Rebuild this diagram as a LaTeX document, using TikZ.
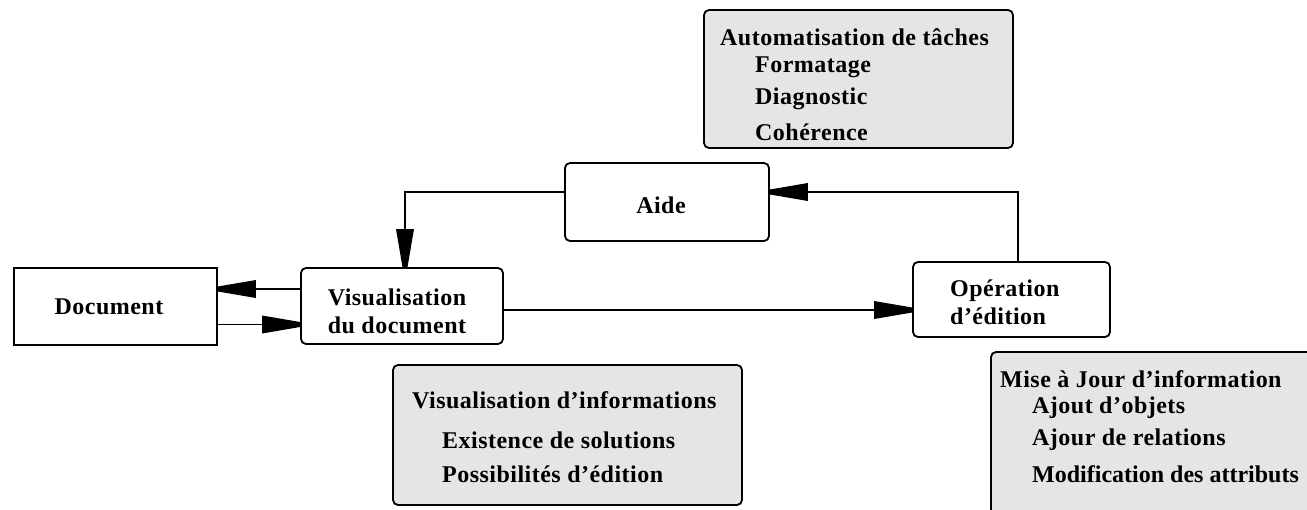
\documentclass[tikz,border=0pt]{standalone}
\usepackage{fontspec}
\setmainfont{Liberation Serif}[LetterSpace=2]
\usetikzlibrary{arrows.meta}
\definecolor{notefill}{RGB}{229,229,229}

% long, blunt-nosed filled arrow head
\pgfdeclarearrow{
  name=BluntHead,
  setup code={
    \pgfarrowssettipend{0pt}
    \pgfarrowssetlineend{-20pt}
    \pgfarrowssetbackend{-38pt}
    \pgfarrowssetvisualbackend{-38pt}
    \pgfarrowsupperhullpoint{-38pt}{9pt}
    \pgfarrowsupperhullpoint{0pt}{2.5pt}
  },
  drawing code={
    \pgfpathmoveto{\pgfpoint{0pt}{2.5pt}}
    \pgfpathlineto{\pgfpoint{-38pt}{9pt}}
    \pgfpathlineto{\pgfpoint{-38pt}{-9pt}}
    \pgfpathlineto{\pgfpoint{0pt}{-2.5pt}}
    \pgfpathclose
    \pgfusepathqfill
  }
}

\begin{document}
\begin{tikzpicture}[x=1pt,y=-1pt,
  every node/.style={font=\fontsize{24}{28}\selectfont\bfseries},
  plainbox/.style={draw, line width=1.8pt, inner sep=0pt},
  roundbox/.style={plainbox, rounded corners=5pt},
  notebox/.style={roundbox, fill=notefill},
  label/.style={inner sep=0pt, anchor=west},
  arr/.style={line width=1.8pt, -{BluntHead}}]

\useasboundingbox (0,0) rectangle (1307,509);
\clip (0,0) rectangle (1307,509);

% main boxes
\node[plainbox, minimum width=203pt, minimum height=77pt] (doc) at (115.5,306.5) {};
\node[roundbox, minimum width=202pt, minimum height=76pt] (vis) at (402,306) {};
\node[roundbox, minimum width=204pt, minimum height=78pt] (aide) at (667,202) {};
\node[roundbox, minimum width=197pt, minimum height=75pt] (op) at (1011.5,299.5) {};

\node[inner sep=0pt] (doct) at (109,307) {Document};
\node[inner sep=0pt, align=center] (vist) at (397,311) {Visualisation\\du document};
\node[inner sep=0pt] (aidet) at (661,205) {Aide};
\node[inner sep=0pt, anchor=west, align=left] (opt) at (950,302) {Opération\\d’édition};

% grey notes
\node[notebox, minimum width=309pt, minimum height=138pt] (auto) at (858.5,79) {};
\node[label] (auto1) at (720,37) {Automatisation de tâches};
\node[label] (auto2) at (755,67) {Formatage};
\node[label] (auto3) at (755,99) {Diagnostic};
\node[label] (auto4) at (755,132) {Cohérence};

\node[notebox, minimum width=349pt, minimum height=140pt] (visinfo) at (567.5,435) {};
\node[label] (visinfo1) at (412,400) {Visualisation d’informations};
\node[label] (visinfo2) at (442,440) {Existence de solutions};
\node[label] (visinfo3) at (442,474) {Possibilités d’édition};

\node[notebox, minimum width=360pt, minimum height=190pt] (maj) at (1171,447) {};
\node[label] (maj1) at (1000,379) {Mise à Jour d’information};
\node[label] (maj2) at (1032,408) {Ajout d’objets};
\node[label] (maj3) at (1032,440) {Ajour de relations};
\node[label] (maj4) at (1032,474) {\addfontfeature{LetterSpace=0}Modification des attributs};

% connectors
\draw[arr] ([yshift=17pt]vis.west) -- ([yshift=17pt]vis.west -| doc.east);
\draw[arr] ([yshift=-18pt]doc.east) -- ([yshift=-18pt]doc.east -| vis.west);
\draw[arr] ([yshift=-4pt]vis.east) -- ([yshift=-4pt]vis.east -| op.west);
\draw[arr] ([xshift=6.5pt]op.north) |- ([yshift=10pt]aide.east);
\draw[arr] ([yshift=10pt]aide.west) -| ([xshift=3pt]vis.north);
\end{tikzpicture}
\end{document}
